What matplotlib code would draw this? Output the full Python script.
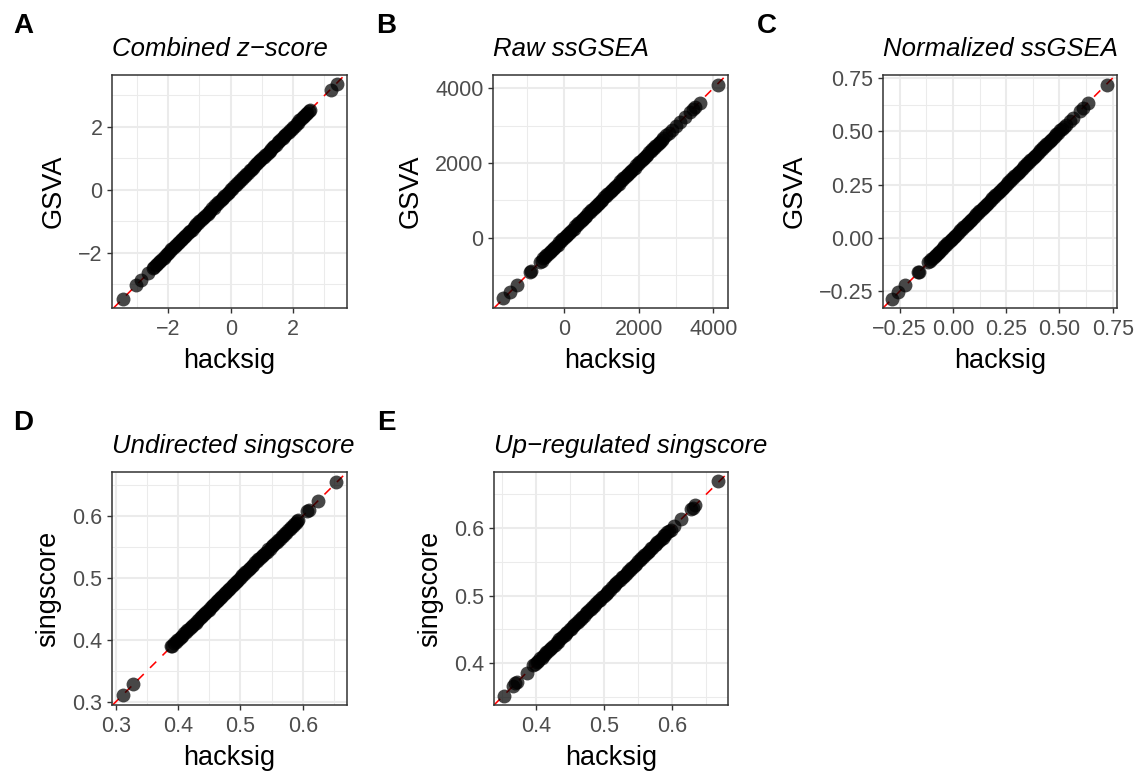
import matplotlib
matplotlib.use("Agg")
import matplotlib.pyplot as plt
from matplotlib.ticker import FixedLocator, FixedFormatter

plt.rcParams['font.family'] = ['Liberation Sans', 'DejaVu Sans']

# ---------------- data ----------------
titles = ["Combined z\u2212score", "Raw ssGSEA", "Normalized ssGSEA",
          "Undirected singscore", "Up\u2212regulated singscore"]
tags = ["A", "B", "C", "D", "E"]
ylabels = ["GSVA", "GSVA", "GSVA", "singscore", "singscore"]
xlabel = "hacksig"

# A: Combined z-score (hacksig vs GSVA)
xa = [-3.45, -3.02, -2.86, -2.65,
      -2.49, -2.44, -2.40, -2.35, -2.29, -2.25, -2.19, -2.15, -2.10, -2.04,
      -2.00, -1.94, -1.90, -1.85, -1.79, -1.75, -1.70, -1.64, -1.60, -1.55,
      -1.49, -1.45, -1.40, -1.34, -1.30, -1.25, -1.19, -1.15, -1.10, -1.04,
      -1.00, -0.95, -0.89, -0.85, -0.80, -0.74, -0.70, -0.65, -0.59, -0.55,
      -0.50, -0.44, -0.40, -0.35, -0.29, -0.25, -0.20, -0.14, -0.10, -0.05,
      0.01, 0.05, 0.10, 0.16, 0.20, 0.25, 0.31, 0.35, 0.40, 0.46,
      0.50, 0.55, 0.61, 0.65, 0.70, 0.76, 0.80, 0.85, 0.91, 0.95,
      1.00, 1.06, 1.10, 1.15, 1.21, 1.25, 1.30, 1.36, 1.40, 1.45,
      1.51, 1.55, 1.60, 1.66, 1.70, 1.75, 1.81, 1.85, 1.90, 1.96,
      2.00, 2.05, 2.11, 2.15, 2.20, 2.26, 2.30, 2.35, 2.41, 2.45,
      2.49, 2.53, 3.20, 3.39]
ya = [-3.46, -3.02, -2.86, -2.63,
      -2.48, -2.45, -2.39, -2.36, -2.28, -2.26, -2.18, -2.16, -2.09, -2.05,
      -1.99, -1.95, -1.89, -1.86, -1.78, -1.76, -1.69, -1.65, -1.59, -1.56,
      -1.48, -1.46, -1.39, -1.35, -1.29, -1.26, -1.18, -1.16, -1.09, -1.05,
      -0.99, -0.96, -0.88, -0.86, -0.79, -0.75, -0.69, -0.66, -0.58, -0.56,
      -0.49, -0.45, -0.39, -0.36, -0.28, -0.26, -0.19, -0.15, -0.09, -0.06,
      0.02, 0.04, 0.11, 0.15, 0.21, 0.24, 0.32, 0.34, 0.41, 0.45,
      0.51, 0.54, 0.62, 0.64, 0.71, 0.75, 0.81, 0.84, 0.92, 0.94,
      1.01, 1.05, 1.11, 1.14, 1.22, 1.24, 1.31, 1.35, 1.41, 1.44,
      1.52, 1.54, 1.61, 1.65, 1.71, 1.74, 1.82, 1.84, 1.91, 1.95,
      2.01, 2.04, 2.12, 2.14, 2.21, 2.25, 2.31, 2.34, 2.42, 2.44,
      2.50, 2.54, 3.17, 3.36]

# B: Raw ssGSEA
xb = [-1625, -1446, -1267, -910, -880,
      -640, -598, -555, -512, -470, -426, -383, -340, -298, -255,
      -212, -170, -126, -83, -40, 2, 45, 88, 130, 174,
      217, 260, 302, 345, 388, 430, 474, 517, 560, 602,
      645, 688, 730, 774, 817, 860, 902, 945, 988, 1030,
      1074, 1117, 1160, 1202, 1245, 1288, 1330, 1374, 1417, 1460,
      1502, 1545, 1588, 1630, 1674, 1717, 1760, 1802, 1845, 1888,
      1930, 1974, 2017, 2060, 2102, 2145, 2188, 2230, 2274, 2317,
      2360, 2402, 2445, 2488, 2530, 2574, 2617, 2660, 2730, 2800,
      2880, 3010, 3106, 3230, 3373, 3440, 3507, 3641, 4131]
yb = [-1608, -1440, -1262, -905, -885,
      -632, -605, -547, -520, -462, -434, -375, -348, -290, -263,
      -204, -178, -118, -91, -32, -6, 53, 80, 138, 166,
      225, 252, 310, 337, 396, 422, 482, 509, 568, 594,
      653, 680, 738, 766, 825, 852, 910, 937, 996, 1022,
      1082, 1109, 1168, 1194, 1253, 1280, 1338, 1366, 1425, 1452,
      1510, 1537, 1596, 1622, 1682, 1709, 1768, 1794, 1853, 1880,
      1938, 1966, 2025, 2052, 2110, 2137, 2196, 2222, 2282, 2309,
      2368, 2394, 2453, 2480, 2536, 2568, 2622, 2655, 2735, 2790,
      2870, 3000, 3090, 3220, 3360, 3430, 3500, 3600, 4090]

# C: Normalized ssGSEA
xc = [-0.288, -0.257, -0.225, -0.163, -0.158,
      -0.116, -0.108, -0.101, -0.093, -0.086, -0.078, -0.071, -0.063, -0.056, -0.048,
      -0.041, -0.033, -0.026, -0.018, -0.011, -0.003, 0.004, 0.012, 0.019, 0.027,
      0.034, 0.042, 0.049, 0.057, 0.064, 0.072, 0.079, 0.087, 0.094, 0.102,
      0.109, 0.117, 0.124, 0.132, 0.139, 0.147, 0.154, 0.162, 0.169, 0.177,
      0.184, 0.192, 0.199, 0.207, 0.214, 0.222, 0.229, 0.237, 0.244, 0.252,
      0.259, 0.267, 0.274, 0.282, 0.289, 0.297, 0.304, 0.312, 0.319, 0.327,
      0.334, 0.342, 0.349, 0.357, 0.364, 0.372, 0.379, 0.387, 0.394, 0.402,
      0.409, 0.417, 0.424, 0.432, 0.439, 0.447, 0.454, 0.462, 0.469, 0.477,
      0.485, 0.494, 0.503, 0.514, 0.523, 0.533,
      0.548, 0.564, 0.596, 0.611, 0.635, 0.721]
yc = [-0.285, -0.255, -0.222, -0.161, -0.160,
      -0.114, -0.109, -0.099, -0.094, -0.084, -0.079, -0.069, -0.064, -0.054, -0.049,
      -0.039, -0.034, -0.024, -0.019, -0.009, -0.004, 0.006, 0.011, 0.021, 0.026,
      0.036, 0.041, 0.051, 0.056, 0.066, 0.071, 0.081, 0.086, 0.096, 0.101,
      0.111, 0.116, 0.126, 0.131, 0.141, 0.146, 0.156, 0.161, 0.171, 0.176,
      0.186, 0.191, 0.201, 0.206, 0.216, 0.221, 0.231, 0.236, 0.246, 0.251,
      0.261, 0.266, 0.276, 0.281, 0.291, 0.296, 0.306, 0.311, 0.321, 0.326,
      0.336, 0.341, 0.351, 0.356, 0.366, 0.371, 0.381, 0.386, 0.396, 0.401,
      0.411, 0.416, 0.426, 0.431, 0.441, 0.446, 0.456, 0.461, 0.471, 0.476,
      0.486, 0.493, 0.504, 0.511, 0.522, 0.530,
      0.547, 0.562, 0.593, 0.608, 0.631, 0.718]

# D: Undirected singscore
xd = [0.311, 0.328,
      0.389, 0.391, 0.394, 0.397, 0.399, 0.402, 0.404, 0.407, 0.410, 0.412,
      0.415, 0.417, 0.420, 0.423, 0.425, 0.428, 0.430, 0.433, 0.436, 0.438,
      0.441, 0.443, 0.446, 0.449, 0.451, 0.454, 0.456, 0.459, 0.462, 0.464,
      0.467, 0.469, 0.472, 0.475, 0.477, 0.480, 0.482, 0.485, 0.488, 0.490,
      0.493, 0.495, 0.498, 0.501, 0.503, 0.506, 0.508, 0.511, 0.514, 0.516,
      0.519, 0.521, 0.524, 0.527, 0.529, 0.532, 0.534, 0.537, 0.540, 0.542,
      0.545, 0.547, 0.550, 0.553, 0.555, 0.558, 0.560, 0.563, 0.566, 0.568,
      0.571, 0.573, 0.576, 0.579, 0.581, 0.584, 0.586, 0.589, 0.591, 0.593,
      0.607, 0.610, 0.625, 0.654]
yd = [0.311, 0.329,
      0.390, 0.391, 0.395, 0.397, 0.400, 0.402, 0.405, 0.407, 0.411, 0.412,
      0.416, 0.417, 0.421, 0.423, 0.426, 0.428, 0.431, 0.433, 0.437, 0.438,
      0.442, 0.443, 0.447, 0.449, 0.452, 0.454, 0.457, 0.459, 0.463, 0.464,
      0.468, 0.469, 0.473, 0.475, 0.478, 0.480, 0.483, 0.485, 0.489, 0.490,
      0.494, 0.495, 0.499, 0.501, 0.504, 0.506, 0.509, 0.511, 0.515, 0.516,
      0.520, 0.521, 0.525, 0.527, 0.530, 0.532, 0.535, 0.537, 0.541, 0.542,
      0.546, 0.547, 0.551, 0.553, 0.556, 0.558, 0.561, 0.563, 0.567, 0.568,
      0.572, 0.573, 0.577, 0.579, 0.582, 0.584, 0.587, 0.589, 0.592, 0.593,
      0.608, 0.609, 0.624, 0.655]

# E: Up-regulated singscore
xe = [0.353, 0.366, 0.369, 0.372, 0.386,
      0.396, 0.398, 0.401, 0.403, 0.406, 0.408, 0.410, 0.413, 0.415, 0.418,
      0.420, 0.422, 0.425, 0.427, 0.430, 0.432, 0.434, 0.437, 0.439, 0.442,
      0.444, 0.446, 0.449, 0.451, 0.454, 0.456, 0.458, 0.461, 0.463, 0.466,
      0.468, 0.470, 0.473, 0.475, 0.478, 0.480, 0.482, 0.485, 0.487, 0.490,
      0.492, 0.494, 0.497, 0.499, 0.502, 0.504, 0.506, 0.509, 0.511, 0.514,
      0.516, 0.518, 0.521, 0.523, 0.526, 0.528, 0.530, 0.533, 0.535, 0.538,
      0.540, 0.542, 0.545, 0.547, 0.550, 0.552, 0.554, 0.557, 0.559, 0.562,
      0.564, 0.566, 0.569, 0.571, 0.574, 0.576, 0.578, 0.581, 0.583, 0.586,
      0.588, 0.590, 0.593, 0.595, 0.598, 0.602,
      0.613, 0.627, 0.630, 0.633, 0.668]
ye = [0.352, 0.366, 0.370, 0.372, 0.386,
      0.397, 0.398, 0.402, 0.403, 0.407, 0.408, 0.411, 0.413, 0.416, 0.418,
      0.421, 0.422, 0.426, 0.427, 0.431, 0.432, 0.435, 0.437, 0.440, 0.442,
      0.445, 0.446, 0.450, 0.451, 0.455, 0.456, 0.459, 0.461, 0.464, 0.466,
      0.469, 0.470, 0.474, 0.475, 0.479, 0.480, 0.483, 0.485, 0.488, 0.490,
      0.493, 0.494, 0.498, 0.499, 0.503, 0.504, 0.507, 0.509, 0.512, 0.514,
      0.517, 0.518, 0.522, 0.523, 0.527, 0.528, 0.531, 0.533, 0.536, 0.538,
      0.541, 0.542, 0.546, 0.547, 0.551, 0.552, 0.555, 0.557, 0.560, 0.562,
      0.565, 0.566, 0.570, 0.571, 0.575, 0.576, 0.579, 0.581, 0.584, 0.586,
      0.589, 0.590, 0.594, 0.595, 0.597, 0.603,
      0.613, 0.628, 0.630, 0.634, 0.669]

# ticks
xticks_a = [-2, 0, 2];            xticklabels_a = ["\u22122", "0", "2"]
yticks_a = [-2, 0, 2];            yticklabels_a = ["\u22122", "0", "2"]
minor_a = [-3, -1, 1, 3]
xticks_b = [0, 2000, 4000];       xticklabels_b = ["0", "2000", "4000"]
yticks_b = [0, 2000, 4000];       yticklabels_b = ["0", "2000", "4000"]
minor_b = [-1000, 1000, 3000]
xticks_c = [-0.25, 0, 0.25, 0.5, 0.75]
xticklabels_c = ["\u22120.25", "0.00", "0.25", "0.50", "0.75"]
yticks_c = xticks_c;              yticklabels_c = xticklabels_c
minor_c = [-0.125, 0.125, 0.375, 0.625]
xticks_d = [0.3, 0.4, 0.5, 0.6];  xticklabels_d = ["0.3", "0.4", "0.5", "0.6"]
yticks_d = xticks_d;              yticklabels_d = xticklabels_d
minor_d = [0.35, 0.45, 0.55, 0.65]
xticks_e = [0.4, 0.5, 0.6];       xticklabels_e = ["0.4", "0.5", "0.6"]
yticks_e = xticks_e;              yticklabels_e = xticklabels_e
minor_e = [0.35, 0.45, 0.55, 0.65]

# ---------------- layout ----------------
W, H = 1137, 774
fig = plt.figure(figsize=(W / 100, H / 100), dpi=100)

def axes_px(x0, x1, y0, y1):
    return fig.add_axes([x0 / W, 1 - y1 / H, (x1 - x0) / W, (y1 - y0) / H])

panels = [
    dict(box=(112, 347, 75, 308), x=xa, y=ya, xlim=(-3.80, 3.72), ylim=(-3.75, 3.65),
         xt=xticks_a, xtl=xticklabels_a, yt=yticks_a, ytl=yticklabels_a, mn=minor_a, tag=(13, 33)),
    dict(box=(493, 728, 75, 308), x=xb, y=yb, xlim=(-1900, 4390), ylim=(-1870, 4350),
         xt=xticks_b, xtl=xticklabels_b, yt=yticks_b, ytl=yticklabels_b, mn=minor_b, tag=(376, 33)),
    dict(box=(883, 1117, 75, 308), x=xc, y=yc, xlim=(-0.328, 0.77), ylim=(-0.328, 0.764),
         xt=xticks_c, xtl=xticklabels_c, yt=yticks_c, ytl=yticklabels_c, mn=minor_c, tag=(757, 33)),
    dict(box=(112, 347, 472, 705), x=xd, y=yd, xlim=(0.294, 0.671), ylim=(0.295, 0.671),
         xt=xticks_d, xtl=xticklabels_d, yt=yticks_d, ytl=yticklabels_d, mn=minor_d, tag=(13, 430)),
    dict(box=(494, 728, 472, 705), x=xe, y=ye, xlim=(0.338, 0.682), ylim=(0.338, 0.683),
         xt=xticks_e, xtl=xticklabels_e, yt=yticks_e, ytl=yticklabels_e, mn=minor_e, tag=(377, 430)),
]

for i, p in enumerate(panels):
    ax = axes_px(*p["box"])
    ax.set_xlim(*p["xlim"]); ax.set_ylim(*p["ylim"])
    ax.xaxis.set_major_locator(FixedLocator(p["xt"]))
    ax.xaxis.set_major_formatter(FixedFormatter(p["xtl"]))
    ax.yaxis.set_major_locator(FixedLocator(p["yt"]))
    ax.yaxis.set_major_formatter(FixedFormatter(p["ytl"]))
    ax.xaxis.set_minor_locator(FixedLocator(p["mn"]))
    ax.yaxis.set_minor_locator(FixedLocator(p["mn"]))
    ax.set_axisbelow(True)
    ax.grid(which="major", color="#EBEBEB", lw=1.45)
    ax.grid(which="minor", color="#EBEBEB", lw=0.75)
    ax.tick_params(which="minor", length=0)
    ax.tick_params(which="major", length=3.6, width=1.0, color="#333333",
                   labelsize=15.5, labelcolor="#4D4D4D")
    ax.tick_params(axis="x", pad=4.0)
    ax.tick_params(axis="y", pad=3.2)
    for s in ax.spines.values():
        s.set_color("#333333"); s.set_linewidth(1.1)
    ax.axline((0, 0), slope=1, color="red", lw=1.15, dashes=(5.5, 5.5), zorder=2)
    ax.scatter(p["x"], p["y"], s=100, c="black", alpha=0.72, linewidths=0, zorder=3)
    ax.set_xlabel(xlabel, fontsize=19.5, labelpad=6)
    ax.set_ylabel(ylabels[i], fontsize=19.5, labelpad=8)
    ax.set_title(titles[i], loc="left", fontsize=18.5, style="italic", pad=14)
    tx, ty = p["tag"]
    fig.text(tx / W, 1 - ty / H, tags[i], fontsize=20, fontweight="bold", ha="left", va="baseline")

fig.savefig("out.png", dpi=100, facecolor="white")
